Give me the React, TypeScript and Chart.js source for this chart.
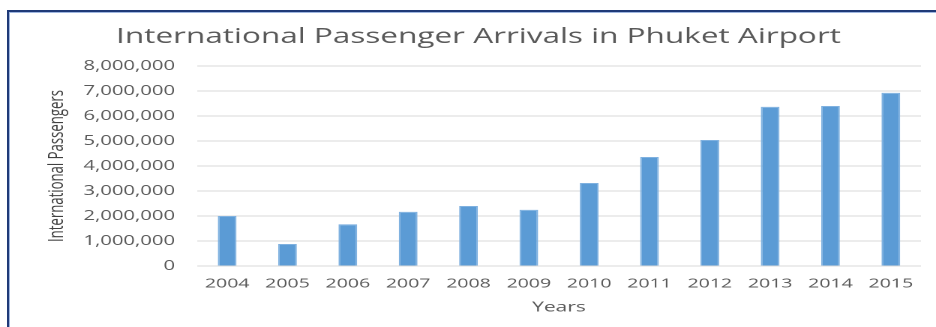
import React, { useEffect, useRef } from "react";
import { Chart, registerables } from "chart.js";

Chart.register(...registerables);

const years = ["2004", "2005", "2006", "2007", "2008", "2009", "2010", "2011", "2012", "2013", "2014", "2015"];
const passengers = [2000000, 880000, 1670000, 2170000, 2400000, 2250000, 3320000, 4360000, 5040000, 6370000, 6400000, 6930000];
const chartTitle = "International Passenger Arrivals in Phuket Airport";
const yTitle = "International Passengers";
const xTitle = "Years";

// The reference picture is a horizontally stretched chart; draw at 624px wide and stretch 1.5x.
const STRETCH = 1.5;
const W = 936 / STRETCH;
const H = 327;

const textPlugin = {
  id: "textPlugin",
  afterDraw(chart: any) {
    const ctx = chart.ctx as CanvasRenderingContext2D;
    ctx.save();
    ctx.font = "21px 'Open Sans', sans-serif";
    ctx.fillStyle = "#595959";
    ctx.textAlign = "center";
    ctx.textBaseline = "alphabetic";
    ctx.fillText(chartTitle, 478.5 / STRETCH, 43);

    ctx.font = "13.5px 'Open Sans', sans-serif";
    const wy = ctx.measureText(yTitle).width;
    const sy = 152 / wy;
    ctx.translate(63 / STRETCH, 166);
    ctx.rotate(-Math.PI / 2);
    ctx.scale(sy, 1);
    ctx.fillStyle = "#404040";
    ctx.textAlign = "center";
    ctx.fillText(yTitle, 0, 0);
    ctx.restore();
  },
};

export default function App() {
  const ref = useRef<HTMLCanvasElement | null>(null);

  useEffect(() => {
    if (!ref.current) return;
    const chart = new Chart(ref.current, {
      type: "bar",
      data: {
        labels: years,
        datasets: [
          {
            data: passengers,
            backgroundColor: "#5b9bd5",
            borderColor: "#7fb1e0",
            borderWidth: 1,
            categoryPercentage: 1,
            barPercentage: 0.31,
          },
        ],
      },
      options: {
        animation: false,
        responsive: false,
        maintainAspectRatio: false,
        devicePixelRatio: 2,
        layout: { padding: { left: 0, right: 936 / STRETCH - 921 / STRETCH, top: 66, bottom: 0 } },
        plugins: {
          legend: { display: false },
          tooltip: { enabled: false },
          title: { display: false },
        },
        scales: {
          x: {
            grid: { display: false, drawTicks: false },
            border: { display: false },
            ticks: {
              color: "#595959",
              padding: 10,
              font: { family: "'Open Sans', sans-serif", size: 13 },
              maxRotation: 0,
            },
            title: {
              display: true,
              text: xTitle,
              color: "#595959",
              font: { family: "'Open Sans', sans-serif", size: 14 },
              padding: { top: 0, bottom: 11 },
            },
            afterFit: (s: any) => {
              s.height = 61;
            },
          },
          y: {
            min: 0,
            max: 8000000,
            grid: { color: "#d9d9d9", drawTicks: false },
            border: { display: false },
            ticks: {
              stepSize: 1000000,
              color: "#595959",
              padding: 22 / STRETCH,
              font: { family: "'Open Sans', sans-serif", size: 13.5 },
              callback: (v: any) => Number(v).toLocaleString("en-US"),
            },
            afterFit: (s: any) => {
              s.width = 197 / STRETCH;
            },
          },
        },
      },
      plugins: [textPlugin],
    });
    return () => chart.destroy();
  }, []);

  return (
    <div style={{ position: "fixed", left: 0, top: 0, width: 936, height: 327, background: "#ffffff", overflow: "hidden" }}>
      <div
        style={{
          position: "absolute",
          left: 7,
          top: 10,
          width: 960,
          height: 400,
          border: "2px solid #1f3a78",
          boxShadow: "inset 1px 1px 0 #9fb6e0",
          boxSizing: "border-box",
        }}
      />
      <div
        style={{
          position: "absolute",
          left: 0,
          top: 0,
          width: W,
          height: H,
          transform: `scaleX(${STRETCH})`,
          transformOrigin: "0 0",
        }}
      >
        <canvas ref={ref} width={W} height={H} style={{ display: "block", width: W, height: H }} />
      </div>
    </div>
  );
}
